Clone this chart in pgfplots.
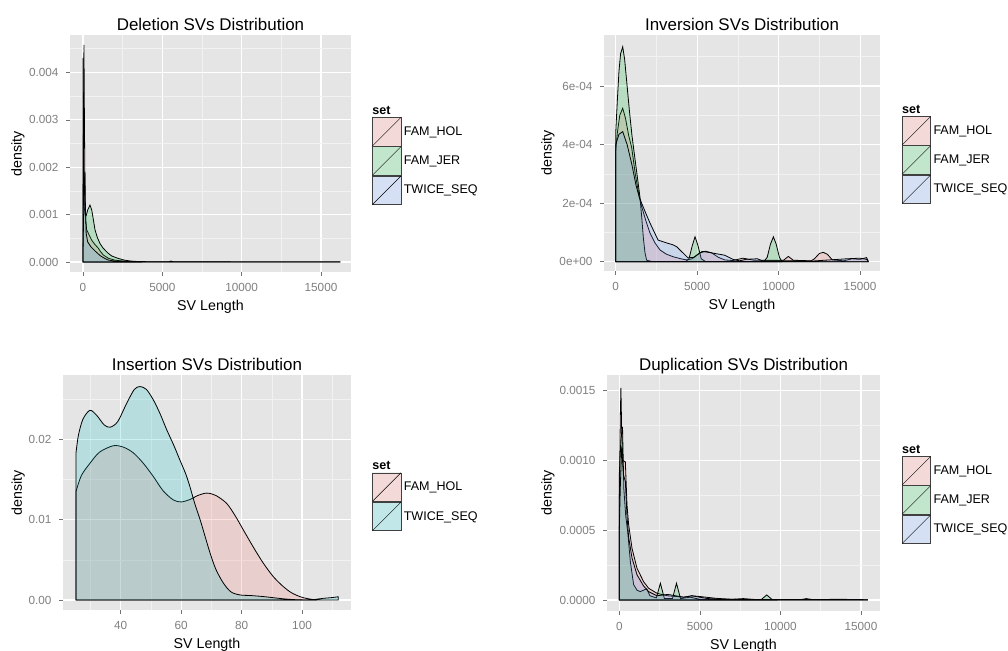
\documentclass[border=0pt]{standalone}
\usepackage{fontspec}
\setmainfont{Liberation Sans}
\usepackage{pgfplots}
\pgfplotsset{compat=1.18}

\definecolor{ggred}{HTML}{F8766D}
\definecolor{gggreen}{HTML}{00BA38}
\definecolor{ggblue}{HTML}{619CFF}
\definecolor{ggcyan}{HTML}{00BFC4}
\definecolor{ggbg}{HTML}{E5E5E5}
\definecolor{ggminor}{HTML}{F2F2F2}

\newcommand\titlesize{\fontsize{17}{20}\selectfont}
\newcommand\labsize{\fontsize{14.3}{17}\selectfont}
\newcommand\ticksize{\fontsize{11.8}{13}\selectfont}
\newcommand\legsize{\fontsize{12.6}{14}\selectfont}

\pgfplotsset{
  ggpanel/.style={
    scale only axis, anchor=south west,
    axis background/.style={fill=ggbg},
    axis line style={draw=none},
    grid=both,
    major grid style={white, line width=1.1bp},
    minor grid style={ggminor, line width=0.5bp},
    tick align=outside, tick pos=left,
    major tick length=4bp, minor tick length=0pt,
    tick style={black!55, line width=0.5bp},
    ticklabel style={font=\ticksize, text=black!50},
    xticklabel style={yshift=-4bp},
    yticklabel style={xshift=-4bp},
    scaled ticks=false,
    title style={font=\titlesize, at={(axis description cs:0.5,1)}, anchor=base, yshift=-1pt},
    xlabel style={font=\labsize, at={(axis description cs:0.5,-0.148)}, anchor=center},
    ylabel style={font=\labsize, anchor=center},
    xlabel={SV Length}, ylabel={density},
    every axis plot/.append style={draw=black, line width=0.8bp, fill opacity=0.2},
    legend cell align=left,
    legend style={draw=none, fill=none, inner sep=0pt, outer sep=0pt,
      row sep=0pt, column sep=0pt, font=\legsize,
      nodes={inner sep=0pt, inner xsep=2.5bp}, anchor=south west},
    legend image code/.code={
      \fill[ggminor, fill opacity=1] (0bp,-14.25bp) rectangle (28.5bp,14.25bp);
      \draw[#1, draw=black!75, line width=0.6bp] (0bp,-14.25bp) rectangle (28.5bp,14.25bp);
      \draw[black, line width=0.4bp, fill=none] (0bp,-14.25bp) -- (28.5bp,14.25bp);
    },
  },
  settitle/.style={legend image code/.code={
      \node[anchor=west, inner sep=0pt, draw=none, fill=none, text=black,
        text opacity=1, font=\legsize\bfseries] at (0bp,0bp) {set};
      \path[draw=none, fill=none] (0bp,-6bp) rectangle (1bp,6bp);}},
}

\begin{document}
\begin{tikzpicture}[x=1bp,y=1bp]
\useasboundingbox (0,0) rectangle (1008,651);

% Deletion
\begin{axis}[ggpanel, at={(70bp,379bp)}, width=281bp, height=237bp,
  title={Deletion SVs Distribution},
  xmin=-819, xmax=16890, ymin=-0.000211, ymax=0.004789,
  xtick={0,5000,10000,15000}, xticklabels={0,5000,10000,15000},
  minor xtick={2500,7500,12500},
  ytick={0,0.001,0.002,0.003,0.004}, yticklabels={0.000,0.001,0.002,0.003,0.004},
  minor ytick={0.0005,0.0015,0.0025,0.0035,0.0045},
  ylabel style={at={(axis description cs:-0.185,0.5)}},
  legend style={at={(axis description cs:1.0747,0.2827)}}]
\addlegendimage{settitle}\addlegendentry{\hphantom{x}}
\addplot[fill=ggred] coordinates {(0,0.001) (30,0.0030) (60,0.00458) (90,0.0030) (130,0.0013) (180,0.00085) (230,0.00068) (400,0.00056) (548,0.00046) (750,0.00037) (965,0.00029) (1100,0.00022) (1280,0.000148) (1600,0.000078) (2000,0.00004) (2500,0.00002) (3000,0.00001) (4000,0.000005) (5400,0.000003) (5550,0.00002) (5700,0.000003) (8000,0.000002) (16200,0.000001)} \closedcycle;
\addlegendentry{FAM\_HOL}
\addplot[fill=gggreen] coordinates {(0,0.0043) (15,0.0043) (35,0.0020) (70,0.0012) (130,0.0010) (200,0.00098) (300,0.00110) (440,0.00120) (550,0.00110) (650,0.00090) (756,0.00068) (900,0.00052) (1070,0.00039) (1250,0.00030) (1390,0.00025) (1600,0.00018) (1810,0.000127) (2200,0.0000774) (2600,0.00004) (3000,0.00002) (3700,0.000005)} \closedcycle;
\addlegendentry{FAM\_JER}
\addplot[fill=ggblue] coordinates {(0,0.0002) (40,0.0010) (90,0.0017) (120,0.0019) (150,0.0012) (200,0.0006) (300,0.00042) (500,0.00032) (800,0.00022) (1100,0.00013) (1400,0.00007) (1600,0.00004) (2000,0.00002) (3000,0.00001) (5000,0.000004) (10000,0.000002) (16200,0.000002)} \closedcycle;
\addlegendentry{TWICE\_SEQ}
\end{axis}

% Inversion
\begin{axis}[ggpanel, at={(604bp,380bp)}, width=276bp, height=236bp,
  title={Inversion SVs Distribution},
  xmin=-718, xmax=16225, ymin=-0.0000317, ymax=0.000774,
  xtick={0,5000,10000,15000}, xticklabels={0,5000,10000,15000},
  minor xtick={2500,7500,12500},
  ytick={0,0.0002,0.0004,0.0006}, yticklabels={0e+00,2e-04,4e-04,6e-04},
  minor ytick={0.0001,0.0003,0.0005,0.0007},
  ylabel style={at={(axis description cs:-0.203,0.5)}},
  legend style={at={(axis description cs:1.0786,0.2839)}}]
\addlegendimage{settitle}\addlegendentry{\hphantom{x}}
\addplot[fill=ggred] coordinates {(0,0.000375) (100,0.00044) (250,0.0005) (430,0.000524) (600,0.00049) (800,0.00043) (980,0.00039) (1200,0.0003) (1450,0.00022) (1595,0.000188) (1850,0.00014) (2105,0.000098) (2400,0.000065) (2720,0.00004) (3100,0.000026) (3520,0.000017) (4000,0.00001) (4360,0.000006) (4700,0.00001) (5100,0.000028) (5500,0.000036) (5900,0.00003) (6300,0.000015) (6700,0.000006) (7200,0.000004) (7800,0.000012) (8500,0.000005) (10300,0.000005) (10600,0.000018) (10900,0.000005) (12000,0.000003) (12200,0.00001) (12500,0.000028) (12740,0.000032) (13000,0.000025) (13300,0.000006) (14000,0.000003) (14500,0.00001) (15000,0.000008) (15400,0.000014) (15500,0.000002)} \closedcycle;
\addlegendentry{FAM\_HOL}
\addplot[fill=gggreen] coordinates {(0,0.00044) (100,0.00055) (200,0.00065) (300,0.00071) (430,0.000734) (550,0.00069) (700,0.0006) (850,0.00051) (1000,0.00043) (1185,0.00035) (1350,0.00028) (1490,0.00022) (1600,0.00015) (1700,0.00008) (1800,0.00003) (1900,0.000005) (2200,0.000001) (4300,0.000001) (4500,0.00001) (4700,0.000055) (4870,0.000085) (5050,0.000055) (5250,0.00001) (5500,0.000001) (9100,0.000001) (9300,0.000015) (9500,0.00006) (9680,0.000085) (9850,0.00006) (10050,0.000015) (10200,0.000001)} \closedcycle;
\addlegendentry{FAM\_JER}
\addplot[fill=ggblue] coordinates {(0,0.0004) (200,0.000435) (430,0.000444) (700,0.0004) (1000,0.00033) (1250,0.00026) (1450,0.00022) (1590,0.0002) (1850,0.000165) (2105,0.000132) (2600,0.000074) (3130,0.000064) (3500,0.000058) (3745,0.000051) (4130,0.00003) (4440,0.000013) (4800,0.000015) (5300,0.000035) (5700,0.000032) (6200,0.000027) (6700,0.000022) (7200,0.000008) (7600,0.000003) (8000,0.000008) (8700,0.00001) (9000,0.000003) (11000,0.000003) (12000,0.000002) (14200,0.00001) (15000,0.000012) (15400,0.000008) (15500,0.000002)} \closedcycle;
\addlegendentry{TWICE\_SEQ}
\end{axis}

% Insertion
\begin{axis}[ggpanel, at={(63bp,41bp)}, width=288bp, height=235bp,
  title={Insertion SVs Distribution},
  xmin=20.9, xmax=116.2, ymin=-0.00125, ymax=0.028,
  xtick={40,60,80,100}, xticklabels={40,60,80,100},
  minor xtick={30,50,70,90,110},
  ytick={0,0.01,0.02}, yticklabels={0.00,0.01,0.02},
  minor ytick={0.005,0.015,0.025},
  ylabel style={at={(axis description cs:-0.156,0.5)}},
  legend style={at={(axis description cs:1.0729,0.336)}}]
\addlegendimage{settitle}\addlegendentry{\hphantom{x}}
\addplot[fill=ggred, smooth, tension=0.5] coordinates {(25.2,0.0135) (27,0.0155) (29.8,0.0170) (33,0.0184) (37.6,0.0192) (41,0.0190) (44.2,0.0183) (47.5,0.0170) (50.8,0.01536) (54,0.0136) (57.4,0.01245) (60,0.0122) (62.9,0.0125) (65.5,0.0130) (68.5,0.0133) (71.5,0.0130) (75.1,0.0120) (78,0.0104) (80.6,0.0087) (84,0.0065) (87.2,0.00457) (90.5,0.0029) (93.8,0.00166) (96.5,0.0009) (99.4,0.0004) (102,0.00015) (104.9,0.0)} \closedcycle;
\addlegendentry{FAM\_HOL}
\addplot[fill=ggcyan, smooth, tension=0.5] coordinates {(25.2,0.0183) (26,0.0205) (27.5,0.0225) (29.8,0.0236) (32,0.0230) (34.5,0.0218) (36.5,0.0215) (39,0.0222) (42,0.0245) (44.5,0.0262) (46.4,0.02656) (48.5,0.0262) (50.8,0.0249) (53,0.0232) (55.2,0.0212) (57.5,0.0193) (59.6,0.0174) (61.5,0.0157) (62.9,0.0141) (64.5,0.0120) (66.3,0.00996) (68,0.0078) (69.6,0.0058) (71.5,0.0038) (74,0.00208) (76.5,0.0010) (79.5,0.00062) (83,0.00055) (87.2,0.00042) (90.5,0.00028) (93.8,0.00014) (98,0.00003) (102.7,0.0) (105,0.0001) (107,0.0002) (110,0.0003) (112,0.0004)} \closedcycle;
\addlegendentry{TWICE\_SEQ}
\end{axis}

% Duplication
\begin{axis}[ggpanel, at={(607bp,40.3bp)}, width=273bp, height=235.7bp,
  title={Duplication SVs Distribution},
  xmin=-763, xmax=16183, ymin=-0.0000767, ymax=0.001612,
  xtick={0,5000,10000,15000}, xticklabels={0,5000,10000,15000},
  minor xtick={2500,7500,12500},
  ytick={0,0.0005,0.001,0.0015}, yticklabels={0.0000,0.0005,0.0010,0.0015},
  minor ytick={0.00025,0.00075,0.00125},
  ylabel style={at={(axis description cs:-0.216,0.5)}},
  legend style={at={(axis description cs:1.0795,0.283)}}]
\addlegendimage{settitle}\addlegendentry{\hphantom{x}}
\addplot[fill=ggred] coordinates {(0,0.0007) (60,0.0013) (100,0.00152) (150,0.0012) (220,0.001) (375,0.00099) (478,0.00068) (580,0.00054) (790,0.00037) (1100,0.000227) (1510,0.000131) (1820,0.000084) (2340,0.000048) (3000,0.00003) (4000,0.00002) (4500,0.00003) (5000,0.000025) (6000,0.000012) (7000,0.000005) (7700,0.00001) (8500,0.000003) (11300,0.000003) (11600,0.00001) (12000,0.000003) (13700,0.000005) (15400,0.000002)} \closedcycle;
\addlegendentry{FAM\_HOL}
\addplot[fill=gggreen] coordinates {(0,0.0009) (100,0.00115) (200,0.00124) (280,0.0008) (400,0.0006) (520,0.00049) (690,0.00027) (890,0.00011) (1100,0.00007) (1300,0.00006) (1700,0.00008) (1900,0.00003) (2300,0.000015) (2550,0.00012) (2800,0.00001) (3300,0.00001) (3550,0.00012) (3800,0.00001) (4400,0.00002) (5000,0.000005) (8800,0.000002) (9150,0.000036) (9500,0.000002) (9800,0.000001)} \closedcycle;
\addlegendentry{FAM\_JER}
\addplot[fill=ggblue] coordinates {(0,0.0005) (60,0.0008) (150,0.0011) (250,0.0009) (375,0.00085) (478,0.0006) (580,0.00045) (790,0.0003) (1100,0.00018) (1510,0.0001) (1820,0.00006) (2340,0.00003) (3000,0.00004) (3500,0.00003) (4000,0.00002) (4500,0.00003) (5000,0.00002) (5500,0.00001) (6500,0.000005) (7500,0.000004) (15400,0.000002)} \closedcycle;
\addlegendentry{TWICE\_SEQ}
\end{axis}
\end{tikzpicture}
\end{document}
